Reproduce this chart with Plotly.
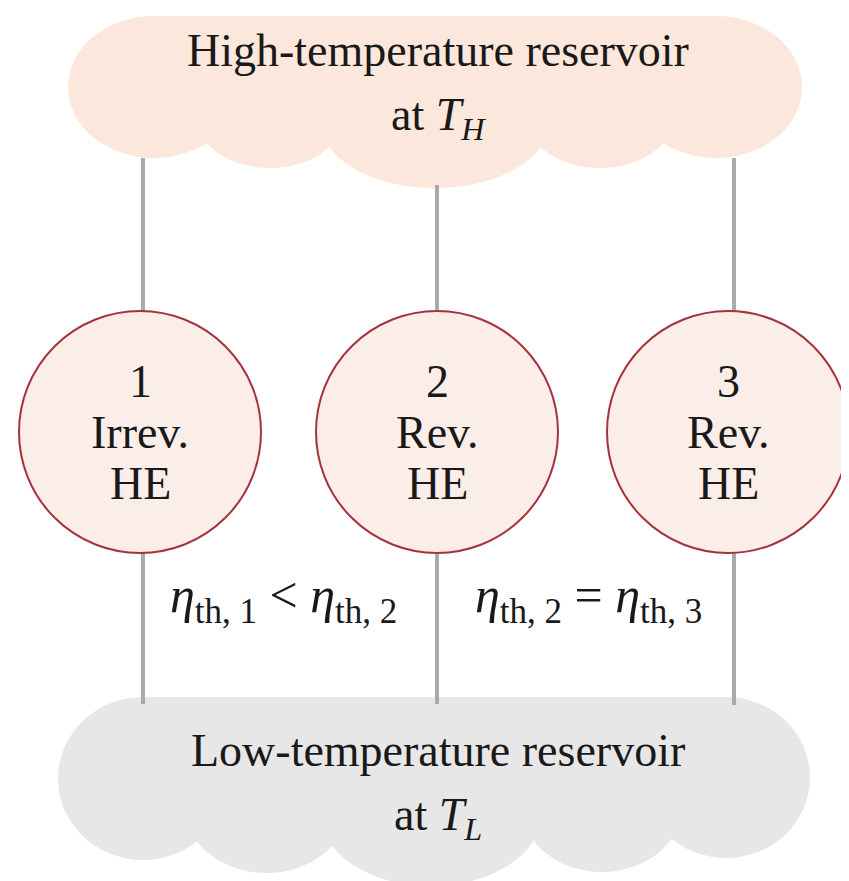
import plotly.graph_objects as go

# ---- content ----
engine_numbers = ["1", "2", "3"]
engine_kinds = ["Irrev.", "Rev.", "Rev."]
engine_suffix = ["HE", "HE", "HE"]
reservoir_titles = ["High-temperature reservoir", "Low-temperature reservoir"]
reservoir_temps = ["at <i>T</i><sub><i>H</i></sub>", "at <i>T</i><sub><i>L</i></sub>"]
relations = [
    "<i>η</i><sub>th, 1</sub> &lt; <i>η</i><sub>th, 2</sub>",
    "<i>η</i><sub>th, 2</sub> = <i>η</i><sub>th, 3</sub>",
]

# ---- geometry (layout only) ----
W, H = 849, 881
OFF = 8  # page body margin
engine_cx = [140, 437, 728]
engine_cy = 432
engine_r = 121
line_x = [143, 437, 734]
FONT = "Liberation Serif, Times New Roman, serif"
HOT = "rgb(251,231,220)"
COLD = "rgb(231,231,231)"

shapes = []

def add_rect(x0, x1, y0, y1, color):
    shapes.append(dict(type="rect", x0=x0, x1=x1, y0=y0, y1=y1,
                       fillcolor=color, line=dict(width=0), layer="below"))

def add_ell(x0, x1, y0, y1, color):
    shapes.append(dict(type="circle", x0=x0, x1=x1, y0=y0, y1=y1,
                       fillcolor=color, line=dict(width=0), layer="below"))

# top cloud
add_rect(154, 716, 16, 140, HOT)
for e in [(68, 240, 16, 158), (630, 802, 16, 158), (195, 345, 60, 168),
          (322, 548, 60, 188), (525, 675, 60, 168)]:
    add_ell(*e, HOT)

# bottom cloud
add_rect(143, 726, 697, 800, COLD)
for e in [(58, 228, 697, 860), (642, 810, 697, 858), (185, 348, 740, 873),
          (320, 542, 740, 886), (522, 682, 740, 872)]:
    add_ell(*e, COLD)

# connecting lines
top_start = [158, 185, 158]
bot_end = [704, 704, 705]
for i, x in enumerate(line_x):
    shapes.append(dict(type="line", x0=x, x1=x, y0=top_start[i], y1=engine_cy - engine_r + 5,
                       line=dict(color="rgb(170,170,170)", width=4), layer="below"))
    shapes.append(dict(type="line", x0=x, x1=x, y0=engine_cy + engine_r - 5, y1=bot_end[i],
                       line=dict(color="rgb(170,170,170)", width=4), layer="below"))

# engines
for cx in engine_cx:
    shapes.append(dict(type="circle", x0=cx - engine_r, x1=cx + engine_r,
                       y0=engine_cy - engine_r, y1=engine_cy + engine_r,
                       fillcolor="rgb(251,237,232)", line=dict(color="rgb(165,50,60)", width=2),
                       layer="below"))

annotations = []

def txt(x, y, s, size=46):
    annotations.append(dict(x=x, y=y, text=s, showarrow=False, xanchor="center", yanchor="middle",
                            font=dict(family=FONT, size=size, color="rgb(25,25,25)")))

txt(438, 50, reservoir_titles[0])
txt(438, 118, reservoir_temps[0])
txt(438, 750, reservoir_titles[1])
txt(438, 818, reservoir_temps[1])

for i, cx in enumerate(engine_cx):
    txt(cx, engine_cy - 51, engine_numbers[i])
    txt(cx, engine_cy, engine_kinds[i])
    txt(cx, engine_cy + 51, engine_suffix[i])

txt(283, 599, relations[0], size=50)
txt(588, 599, relations[1], size=50)

fig = go.Figure()
fig.add_trace(go.Scatter(x=[OFF, W], y=[OFF, H], mode="markers", marker=dict(opacity=0),
                         hoverinfo="skip", showlegend=False))
fig.update_layout(
    width=W - OFF, height=H - OFF, margin=dict(l=0, r=0, t=0, b=0),
    paper_bgcolor="white", plot_bgcolor="white",
    xaxis=dict(range=[OFF, W], visible=False, fixedrange=True),
    yaxis=dict(range=[H, OFF], visible=False, fixedrange=True),
    shapes=shapes, annotations=annotations, showlegend=False,
)
fig.write_html("out.html")
